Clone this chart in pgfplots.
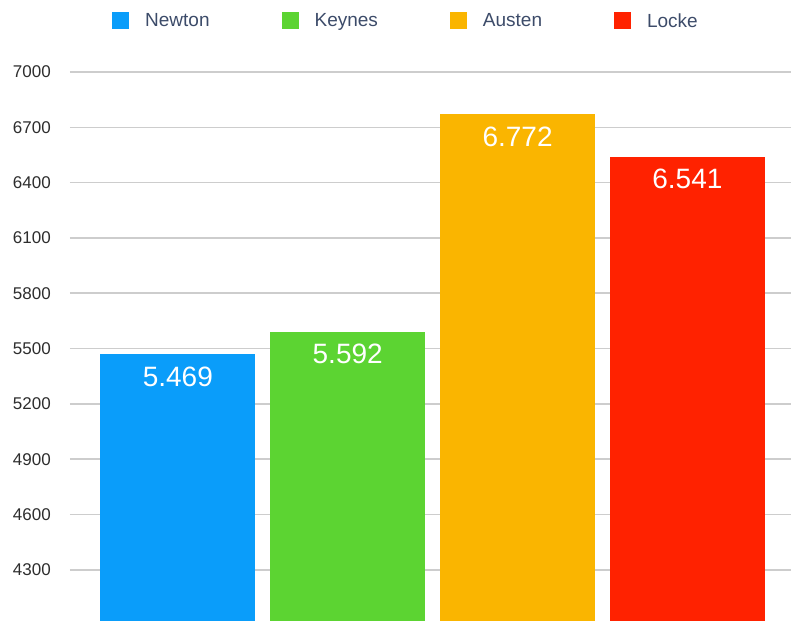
\documentclass[border=0pt]{standalone}
\usepackage{pgfplots}
\pgfplotsset{compat=1.18}
\usepackage{fontspec}
\setmainfont{Liberation Sans}
\definecolor{cNewton}{RGB}{10,157,250}
\definecolor{cKeynes}{RGB}{92,212,50}
\definecolor{cAusten}{RGB}{250,181,0}
\definecolor{cLocke}{RGB}{255,34,0}
\definecolor{gridc}{RGB}{205,205,205}
\definecolor{tickc}{RGB}{45,45,45}
\definecolor{legc}{RGB}{60,75,105}
\begin{document}
\begin{tikzpicture}
\begin{axis}[
  width=721pt, height=549pt, scale only axis,
  xmin=-0.635, xmax=3.61,
  ymin=4023, ymax=7000,
  axis line style={draw=none},
  ytick={4300,4600,4900,5200,5500,5800,6100,6400,6700,7000},
  xtick=\empty,
  ymajorgrids,
  grid style={gridc, line width=1.6pt},
  major tick length=0pt,
  /pgf/number format/1000 sep={},
  /pgf/number format/assume math mode=true,
  yticklabel style={font=\fontsize{17}{20}\selectfont, text=tickc, anchor=east, inner sep=0pt, xshift=-19pt},
  ybar, bar width=155pt, bar shift=0pt,
  point meta=explicit symbolic,
  nodes near coords,
  every node near coord/.append style={font=\fontsize{28}{32}\selectfont, text=white, anchor=north, yshift=-9pt},
  legend columns=4,
  legend style={draw=none, fill=none, at={(axis description cs:0.466,1)}, anchor=center, yshift=51pt,
     font=\fontsize{19}{22}\selectfont, text=legc,
     /tikz/every even column/.append style={column sep=70pt},
     /tikz/every odd column/.append style={column sep=14pt}},
  legend cell align=left,
]
\addplot[fill=cNewton, draw=none, legend image code/.code={\fill[cNewton] (0pt,-8.5pt) rectangle (17pt,8.5pt);}] coordinates {(0,5469) [5.469]};
\addlegendentry{Newton}
\addplot[fill=cKeynes, draw=none, legend image code/.code={\fill[cKeynes] (0pt,-8.5pt) rectangle (17pt,8.5pt);}] coordinates {(1,5592) [5.592]};
\addlegendentry{Keynes}
\addplot[fill=cAusten, draw=none, legend image code/.code={\fill[cAusten] (0pt,-8.5pt) rectangle (17pt,8.5pt);}] coordinates {(2,6772) [6.772]};
\addlegendentry{Austen}
\addplot[fill=cLocke, draw=none, legend image code/.code={\fill[cLocke] (0pt,-8.5pt) rectangle (17pt,8.5pt);}] coordinates {(3,6541) [6.541]};
\addlegendentry{Locke}
\end{axis}
\pgfresetboundingbox
\path ([xshift=-70pt]current axis.south west) rectangle ([yshift=72pt]current axis.north east);
\end{tikzpicture}
\end{document}
